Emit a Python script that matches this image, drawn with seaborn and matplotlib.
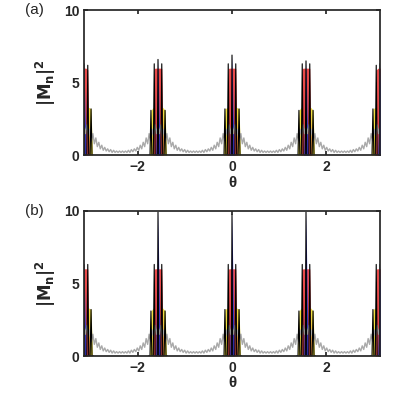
import numpy as np
import matplotlib
matplotlib.use("Agg")
import matplotlib.pyplot as plt
import seaborn as sns

sns.set_theme(style="ticks")
plt.rcParams['font.family'] = ['Liberation Sans', 'DejaVu Sans']

centers = [-np.pi, -np.pi/2, 0.0, np.pi/2, np.pi]
peak_a = [6.3, 6.6, 6.9, 6.5, 6.3]
peak_b = [6.3, 9.9, 9.7, 9.9, 6.3]
side_a = [6.2, 6.3, 6.3, 6.3, 6.2]
side_b = [6.3, 6.3, 6.3, 6.3, 6.3]
outer_h = [3.2, 3.1, 3.2, 3.1, 3.2]

# gray background profile away from a peak (offset steps of pi/100)
gray_profile = [2.0, 1.5, 2.1, 1.3, 1.8, 1.0, 1.5, 0.8, 1.2, 0.6, 0.9,
                0.45, 0.7, 0.35, 0.55, 0.3, 0.45, 0.25, 0.4, 0.2, 0.35,
                0.2, 0.3, 0.2, 0.3, 0.2]

spike_off = [-0.2, -0.17, -0.15, -0.13, -0.10, -0.08, -0.06, -0.015, 0.0,
             0.015, 0.06, 0.08, 0.10, 0.13, 0.15, 0.17, 0.2]

def spike_y(H, S, O):
    return [0, 0, O, 0, 0, S, 0, 0, H, 0, 0, S, 0, 0, O, 0, 0]

yel_off = [-0.18, -0.15, -0.10, 0.10, 0.15, 0.18]
red_off = [-0.11, -0.08, -0.04, 0.04, 0.08, 0.11]
blu_off = [-0.05, -0.02, 0.0, 0.02, 0.05]

def gray_curve():
    xs, ys = [], []
    step = np.pi / 100
    for c in centers[:-1]:
        prof = gray_profile + gray_profile[-2::-1]
        for i, v in enumerate(prof):
            xs.append(c + i * step)
            ys.append(v)
    return np.array(xs), np.array(ys)

fig, axes = plt.subplots(2, 1, figsize=(4, 4), dpi=100)
fig.subplots_adjust(left=0.21, right=0.95, top=0.975, bottom=0.11, hspace=0.38)
gx, gy = gray_curve()
for ax, peaks, sides, lab in zip(axes, [peak_a, peak_b], [side_a, side_b], ["(a)", "(b)"]):
    sns.lineplot(x=gx, y=gy, ax=ax, color="#aaaaaa", lw=1)
    for c, H, S, O in zip(centers, peaks, sides, outer_h):
        ax.fill_between(c + np.array(yel_off), [0, O, 3.3, 3.3, O, 0], color="#f0e040", lw=0)
        ax.fill_between(c + np.array(red_off), [0, S * 0.95, 6.0, 6.0, S * 0.95, 0], color="#e84a4a", lw=0)
        ax.fill_between(c + np.array(blu_off), [0, H * 0.5, H, H * 0.5, 0], color="#3a3ad0", lw=0)
        ax.plot(c + np.array(spike_off), spike_y(H, S, O), color="black", lw=0.8)
    ax.set_xlim(-np.pi, np.pi)
    ax.set_ylim(0, 10)
    ax.set_xticks([-2, 0, 2])
    ax.set_yticks([0, 5, 10])
    ax.tick_params(direction="in", top=True, right=True, length=3, labelsize=10)
    for t in ax.get_xticklabels() + ax.get_yticklabels():
        t.set_fontweight("bold")
    ax.set_xlabel("θ", fontweight="bold", fontsize=11, labelpad=1)
    ax.set_ylabel(r"$\mathbf{|M_n|^2}$", fontsize=12)
    ax.text(-0.2, 1.0, lab, transform=ax.transAxes, fontsize=11, va="center")
fig.savefig("out.png")
